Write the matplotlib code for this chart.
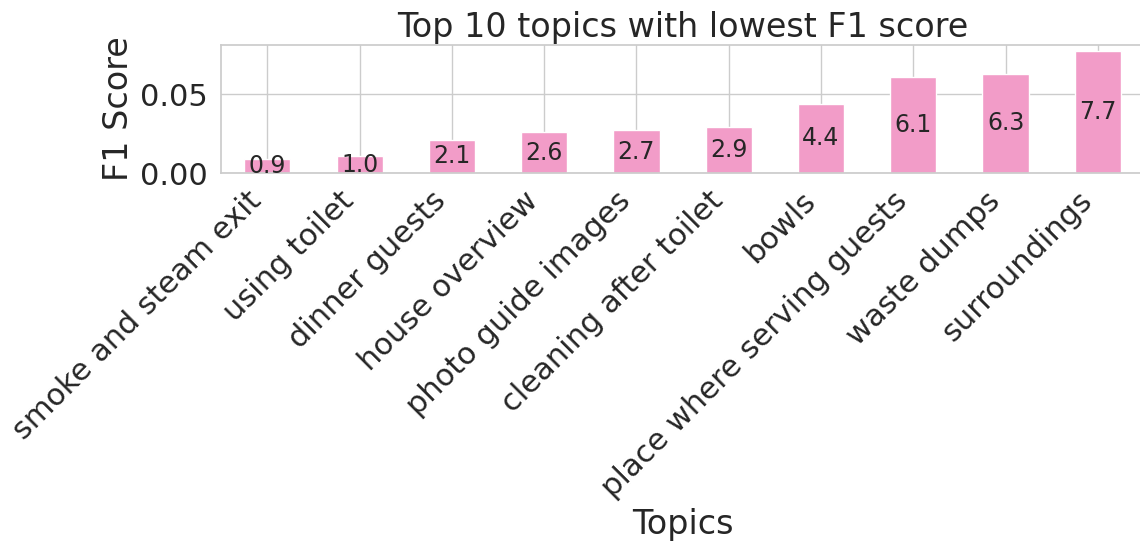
import matplotlib
matplotlib.use("Agg")
import matplotlib.pyplot as plt
import seaborn as sns
import numpy as np

topics = ["smoke and steam exit", "using toilet", "dinner guests", "house overview",
          "photo guide images", "cleaning after toilet", "bowls",
          "place where serving guests", "waste dumps", "surroundings"]
f1_scores = [0.009, 0.0105, 0.021, 0.026, 0.027, 0.029, 0.044, 0.061, 0.063, 0.077]
bar_labels = ["0.9", "1.0", "2.1", "2.6", "2.7", "2.9", "4.4", "6.1", "6.3", "7.7"]

sns.set_theme(style="whitegrid", font_scale=2)

fig = plt.figure(figsize=(11.4, 5.46), dpi=100)
ax = fig.add_axes([0.194, 0.683, 0.8095, 0.2344])

x = np.arange(len(topics))
bars = ax.bar(x, f1_scores, width=0.5, color="#f29cc8", zorder=2)
ax.bar_label(bars, labels=bar_labels, label_type="center", fontsize=17, color="#262626")

ax.set_xlim(-0.5, len(topics) - 0.5)
ax.set_ylim(0, 0.081)
ax.set_yticks([0.0, 0.05])
ax.set_yticklabels(["0.00", "0.05"])
ax.set_xticks(x)
ax.set_xticklabels(topics, rotation=45, ha="right")
ax.set_title("Top 10 topics with lowest F1 score")
ax.set_xlabel("Topics")
ax.set_ylabel("F1 Score")

fig.savefig("out.png", dpi=100)
